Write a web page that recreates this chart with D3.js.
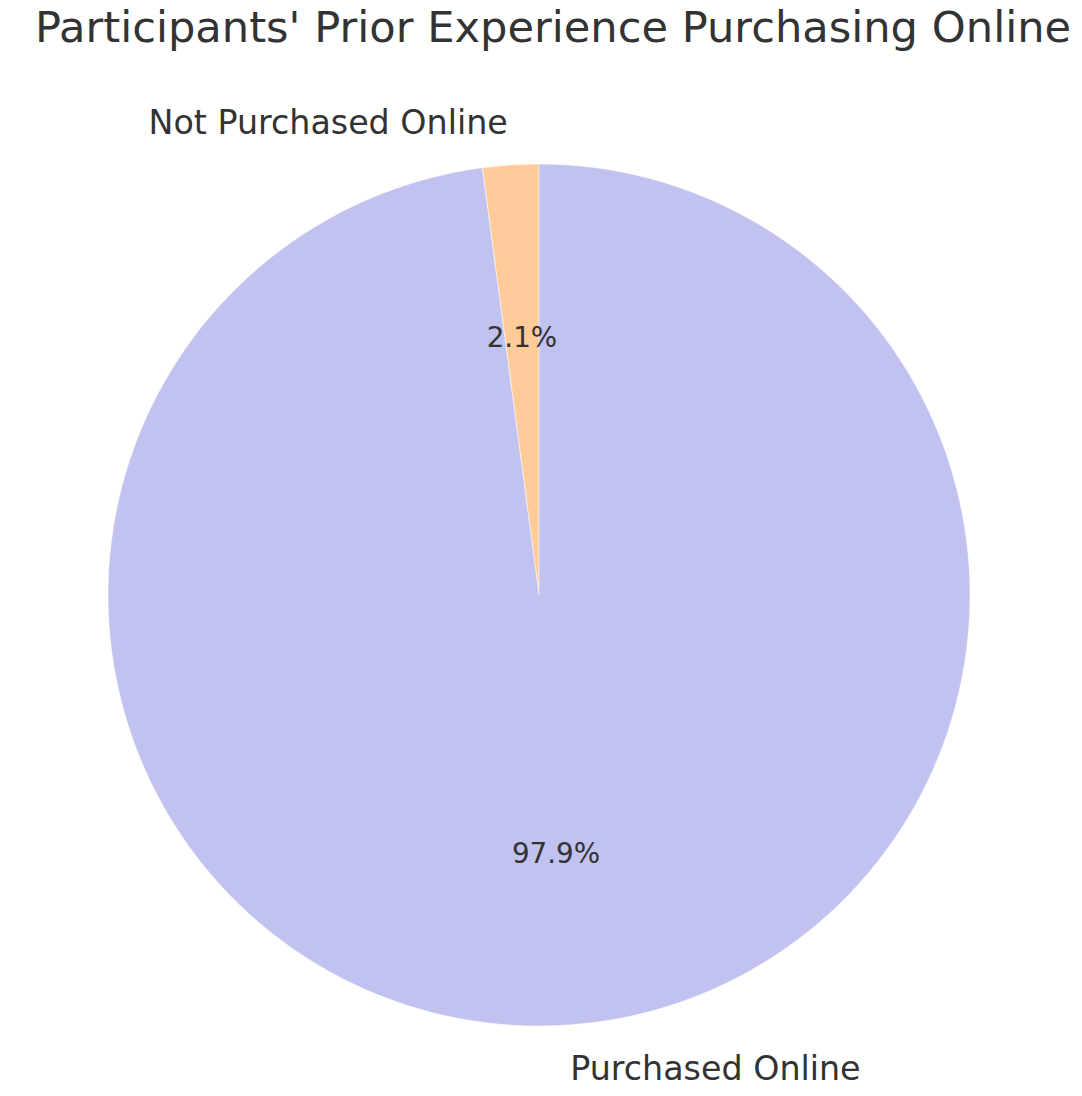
<!DOCTYPE html>
<html>
<head>
<meta charset="utf-8">
<script src="https://cdn.jsdelivr.net/npm/d3@7"></script>
<style>
  body { margin: 0; background: #fff; }
  text { font-family: "DejaVu Sans", sans-serif; fill: #333333; }
</style>
</head>
<body>
<div id="chart"></div>
<script>
var categories = ["Not Purchased Online", "Purchased Online"];
var shares = [2.1, 97.9];
var colors = ["#ffcc99", "#c2c2f0"];

var width = 1082, height = 1096;
var cx = 539, cy = 595, radius = 431;

var svg = d3.select("#chart")
  .append("svg")
    .attr("width", width)
    .attr("height", height);

// title
svg.append("text")
  .attr("x", 553)
  .attr("y", 42)
  .attr("text-anchor", "middle")
  .style("font-size", "43.2px")
  .text("Participants' Prior Experience Purchasing Online");

var data = categories.map(function(c, i) { return {name: c, value: shares[i], color: colors[i]}; });

// counter-clockwise from 12 o'clock, like matplotlib startangle=90
var pie = d3.pie()
  .value(function(d) { return d.value; })
  .sort(null)
  .startAngle(0)
  .endAngle(-2 * Math.PI);

var arc = d3.arc().innerRadius(0).outerRadius(radius);
var pctArc = d3.arc().innerRadius(radius * 0.6).outerRadius(radius * 0.6);
var labelArc = d3.arc().innerRadius(radius * 1.1).outerRadius(radius * 1.1);

var g = svg.append("g")
  .attr("transform", "translate(" + cx + "," + cy + ")");

var arcs = pie(data);

g.selectAll("path")
  .data(arcs)
  .enter()
  .append("path")
  .attr("d", arc)
  .style("fill", function(d) { return d.data.color; })
  .style("stroke", "#ffffff")
  .style("stroke-width", 0.5);

// percentages
g.selectAll("text.pct")
  .data(arcs)
  .enter()
  .append("text")
  .attr("class", "pct")
  .attr("transform", function(d) { return "translate(" + pctArc.centroid(d) + ")"; })
  .attr("text-anchor", "middle")
  .attr("dy", "0.36em")
  .style("font-size", "27.8px")
  .text(function(d) { return d3.format(".1f")(d.data.value) + "%"; });

// category labels
g.selectAll("text.lbl")
  .data(arcs)
  .enter()
  .append("text")
  .attr("class", "lbl")
  .attr("transform", function(d) { return "translate(" + labelArc.centroid(d) + ")"; })
  .attr("text-anchor", function(d) { return labelArc.centroid(d)[0] < 0 ? "end" : "start"; })
  .attr("dy", "0.36em")
  .style("font-size", "33.3px")
  .text(function(d) { return d.data.name; });
</script>
</body>
</html>
